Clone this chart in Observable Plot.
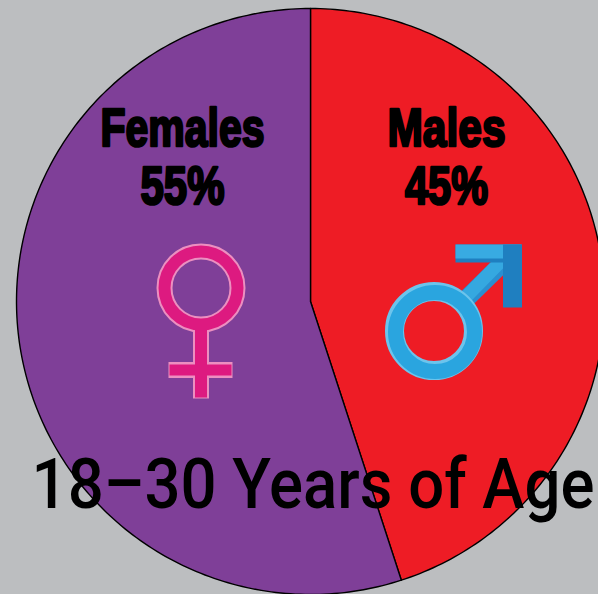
<!DOCTYPE html>
<html>
<head>
<meta charset="utf-8">
<script src="https://cdn.jsdelivr.net/npm/d3@7"></script>
<script src="https://cdn.jsdelivr.net/npm/@observablehq/plot@0.6"></script>
<style>
html,body{margin:0;padding:0;background:#bcbec0;overflow:hidden}
svg{display:block}
</style>
</head>
<body>
<div id="chart"></div>
<script>
const categories = ["Males", "Females"];
const shares = [45, 55];
const sliceColors = ["#ee1c25", "#7f3f98"];
const chartTitle = "18–30 Years of Age";

const cx = 310, cy = 301, rx = 294, ry = 293;
const pie = d3.pie().sort(null)(shares);
const wedges = pie.flatMap((s, i) => {
  const n = Math.ceil((s.endAngle - s.startAngle) * 60);
  const pts = [{name: categories[i], x: cx, y: cy}];
  for (let k = 0; k <= n; ++k) {
    const a = s.startAngle + (s.endAngle - s.startAngle) * k / n;
    pts.push({name: categories[i], x: cx + rx * Math.sin(a), y: cy - ry * Math.cos(a)});
  }
  pts.push({name: categories[i], x: cx, y: cy});
  return pts;
});
const labelX = {Males: 446, Females: 182};
const labels = categories.map((c, i) => ({name: c, share: shares[i] + "%", lx: labelX[c]}));

const heavy = {fontFamily: "'Liberation Sans',sans-serif", fontWeight: 700, fontSize: 53, fill: "#000", stroke: "#000", strokeWidth: 2.6, textAnchor: "middle"};

// squeeze a text mark to a measured width, as the reference's condensed faces are not installed
const fit = widths => (index, scales, values, dims, context, next) => {
  const g = next(index, scales, values, dims, context);
  d3.select(g).selectAll("text").each(function () {
    this.setAttribute("textLength", widths[this.textContent]);
    this.setAttribute("lengthAdjust", "spacingAndGlyphs");
  });
  return g;
};
const squeeze = sx => (index, scales, values, dims, context, next) => {
  const g = next(index, scales, values, dims, context);
  d3.select(g).selectAll("text").each(function () {
    this.setAttribute("transform", (this.getAttribute("transform") || "") + ` scale(${sx},1)`);
  });
  return g;
};
const labelWidths = {Males: 118, Females: 164, "45%": 83, "55%": 84};

// female symbol
const f = {x: 200.5, y: 287.5, r: 36.5, w: 15};
const fe = {stem: 398, barY: 369.5, barL: 168, barR: 232};
// male symbol
const m = {x: 433.5, y: 330.5, r: 39.5, w: 19};
const ma = {tipX: 511, tipY: 254, left: 455, right: 521, top: 244, low: 307, th: 18};

const chart = Plot.plot({
  width: 598, height: 594, margin: 0,
  style: {background: "#bcbec0"},
  x: {domain: [0, 598], range: [0, 598], axis: null},
  y: {domain: [0, 594], range: [0, 594], axis: null},
  color: {domain: categories, range: sliceColors},
  marks: [
    Plot.line(wedges, {x: "x", y: "y", z: "name", fill: "name", stroke: "#000", strokeWidth: 1.4, curve: "linear", strokeLinejoin: "round"}),

    // female symbol
    Plot.link([0], {x1: f.x, x2: f.x, y1: f.y + f.r, y2: fe.stem, stroke: "#ec8fc0", strokeWidth: f.w + 1}),
    Plot.link([0], {x1: fe.barL, x2: fe.barR, y1: fe.barY, y2: fe.barY, stroke: "#ec8fc0", strokeWidth: f.w + 1}),
    Plot.dot([0], {x: () => f.x, y: () => f.y, r: f.r, stroke: "#ec8fc0", strokeWidth: f.w + 1, fill: "none"}),
    Plot.link([0], {x1: f.x, x2: f.x, y1: f.y + f.r, y2: fe.stem - 1, stroke: "#dd1a80", strokeWidth: f.w - 3}),
    Plot.link([0], {x1: fe.barL + 1, x2: fe.barR - 1, y1: fe.barY, y2: fe.barY, stroke: "#dd1a80", strokeWidth: f.w - 4}),
    Plot.dot([0], {x: () => f.x, y: () => f.y, r: f.r, stroke: "#dd1a80", strokeWidth: f.w - 3, fill: "none"}),

    // male symbol
    Plot.link([0], {x1: m.x + m.r * 0.7, y1: m.y - m.r * 0.7, x2: ma.tipX, y2: ma.tipY, stroke: "#2a8fd0", strokeWidth: 18}),
    Plot.link([0], {x1: m.x + m.r * 0.7 - 1, y1: m.y - m.r * 0.7 - 1, x2: ma.tipX - 2, y2: ma.tipY - 2, stroke: "#35a8e0", strokeWidth: 13}),
    Plot.link([0], {x1: ma.left, x2: ma.right, y1: ma.top + ma.th / 2, y2: ma.top + ma.th / 2, stroke: "#1f7fc0", strokeWidth: ma.th}),
    Plot.link([0], {x1: ma.left, x2: ma.right, y1: ma.top + ma.th / 2 - 2, y2: ma.top + ma.th / 2 - 2, stroke: "#38abe2", strokeWidth: ma.th - 4}),
    Plot.link([0], {x1: ma.right - ma.th / 2, x2: ma.right - ma.th / 2, y1: ma.top, y2: ma.low, stroke: "#1f7fc0", strokeWidth: ma.th + 1}),
    Plot.dot([0], {x: () => m.x, y: () => m.y, r: m.r, stroke: "#6cc4ec", strokeWidth: m.w, fill: "none"}),
    Plot.dot([0], {x: () => m.x + 1, y: () => m.y + 1, r: m.r, stroke: "#2aa5df", strokeWidth: m.w - 4, fill: "none"}),

    // labels
    Plot.text(labels, {x: "lx", y: () => 129, text: "name", ...heavy, render: fit(labelWidths)}),
    Plot.text(labels, {x: "lx", y: () => 187, text: "share", ...heavy, render: fit(labelWidths)}),

    // title
    Plot.text([chartTitle], {x: () => 312.5, y: () => 485, text: d => d, fontFamily: "Roboto, sans-serif", fontWeight: 500, fontSize: 71, fill: "#000", textAnchor: "middle", render: squeeze(0.894)})
  ]
});
document.getElementById("chart").append(chart);
</script>
</body>
</html>
